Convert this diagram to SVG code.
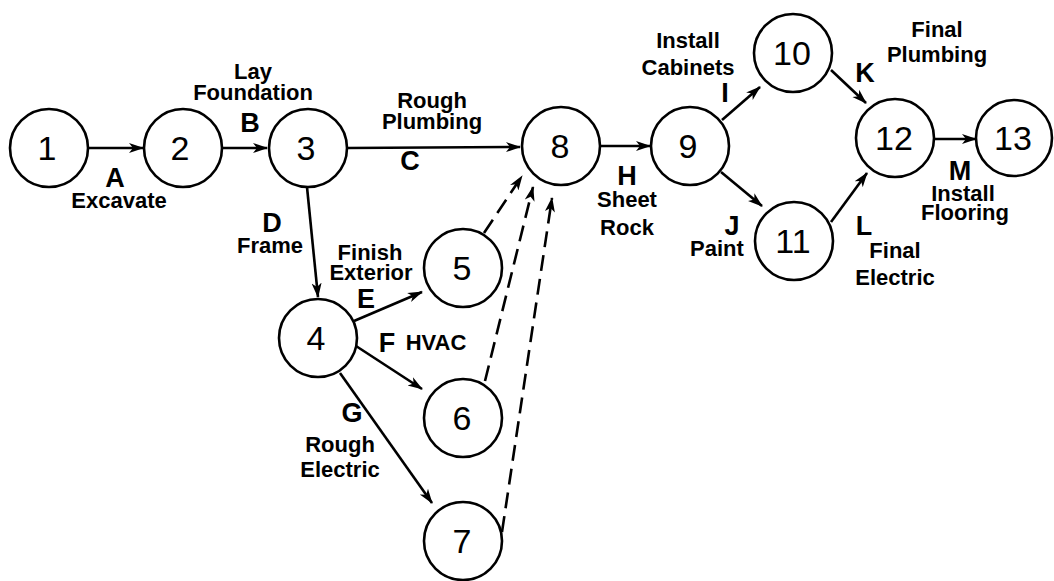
<svg xmlns="http://www.w3.org/2000/svg" width="1054" height="581" viewBox="0 0 1054 581">
<style>
.node circle{fill:#fff;stroke:#000;stroke-width:2.6}
.node text{font-family:"Liberation Sans",Arial,sans-serif;font-size:34px;text-anchor:middle;fill:#000}
.lbl{font-family:"Liberation Sans",Arial,sans-serif;font-weight:bold;font-size:22px;text-anchor:middle;fill:#000}
.let{font-family:"Liberation Sans",Arial,sans-serif;font-weight:bold;font-size:27px;text-anchor:middle;fill:#000}
.edge{stroke:#000;stroke-width:2.6;fill:none;marker-end:url(#ah)}
.dash{stroke-dasharray:16 8}
</style>
<defs>
<marker id="ah" markerUnits="userSpaceOnUse" markerWidth="16" markerHeight="12" refX="14" refY="5" orient="auto" viewBox="0 0 16 10">
<path d="M0,0 L15,5 L0,10 L4,5 z" fill="#000"/>
</marker>
</defs>
<rect width="1054" height="581" fill="#fff"/>
<g id="connectors">
<line class="edge" x1="89" y1="148" x2="143" y2="148"/>
<line class="edge" x1="223" y1="148" x2="267" y2="148"/>
<line class="edge" x1="347" y1="148" x2="520" y2="147"/>
<line class="edge" x1="307" y1="187" x2="318" y2="297"/>
<line class="edge" x1="354" y1="321" x2="422" y2="292"/>
<line class="edge" x1="356" y1="346" x2="422" y2="389"/>
<line class="edge" x1="340" y1="373" x2="432" y2="503"/>
<line class="edge dash" x1="484" y1="233" x2="522" y2="176"/>
<line class="edge dash" x1="485" y1="381" x2="533" y2="187"/>
<line class="edge dash" x1="502" y1="532" x2="552" y2="198"/>
<line class="edge" x1="600" y1="146" x2="650" y2="146"/>
<line class="edge" x1="722" y1="120" x2="760" y2="87"/>
<line class="edge" x1="721" y1="172" x2="762" y2="206"/>
<line class="edge" x1="831" y1="70" x2="866" y2="103"/>
<line class="edge" x1="831" y1="222" x2="867" y2="173"/>
<line class="edge" x1="934" y1="139" x2="976" y2="139"/>
</g>
<g id="n1" class="node"><circle cx="49" cy="148" r="39"/><text x="47" y="160">1</text></g>
<g id="n2" class="node"><circle cx="183" cy="148" r="39"/><text x="180" y="160">2</text></g>
<g id="n3" class="node"><circle cx="308" cy="148" r="39"/><text x="306" y="160">3</text></g>
<g id="n4" class="node"><circle cx="318" cy="338" r="39"/><text x="316" y="350">4</text></g>
<g id="n5" class="node"><circle cx="463" cy="268" r="39"/><text x="462" y="280">5</text></g>
<g id="n6" class="node"><circle cx="463" cy="418" r="39"/><text x="462" y="430">6</text></g>
<g id="n7" class="node"><circle cx="463" cy="541" r="39"/><text x="462" y="553">7</text></g>
<g id="n8" class="node"><circle cx="561" cy="146" r="39"/><text x="560" y="158">8</text></g>
<g id="n9" class="node"><circle cx="690" cy="146" r="39"/><text x="688" y="158">9</text></g>
<g id="n10" class="node"><circle cx="793" cy="53" r="39"/><text x="792" y="65">10</text></g>
<g id="n11" class="node"><circle cx="794" cy="241" r="39"/><text x="793" y="253">11</text></g>
<g id="n12" class="node"><circle cx="895" cy="138" r="39"/><text x="894" y="150">12</text></g>
<g id="n13" class="node"><circle cx="1014" cy="138" r="38"/><text x="1013" y="150">13</text></g>
<g id="labels">
<text class="let" x="115" y="187">A</text>
<text class="lbl" x="119" y="208">Excavate</text>
<text class="lbl" x="253" y="79">Lay</text>
<text class="lbl" x="253" y="100">Foundation</text>
<text class="let" x="250" y="132">B</text>
<text class="lbl" x="432" y="108">Rough</text>
<text class="lbl" x="432" y="129">Plumbing</text>
<text class="let" x="410" y="170">C</text>
<text class="let" x="272" y="232">D</text>
<text class="lbl" x="270" y="253">Frame</text>
<text class="lbl" x="370" y="260">Finish</text>
<text class="lbl" x="371" y="280">Exterior</text>
<text class="let" x="366" y="308">E</text>
<text class="let" x="387" y="352">F</text>
<text class="lbl" x="436" y="350">HVAC</text>
<text class="let" x="352" y="422">G</text>
<text class="lbl" x="340" y="452">Rough</text>
<text class="lbl" x="340" y="477">Electric</text>
<text class="let" x="627" y="185">H</text>
<text class="lbl" x="627" y="207">Sheet</text>
<text class="lbl" x="627" y="235">Rock</text>
<text class="lbl" x="688" y="48">Install</text>
<text class="lbl" x="688" y="75">Cabinets</text>
<text class="let" x="725" y="102">I</text>
<text class="let" x="732" y="235">J</text>
<text class="lbl" x="717" y="256">Paint</text>
<text class="let" x="865" y="82">K</text>
<text class="lbl" x="937" y="37">Final</text>
<text class="lbl" x="937" y="62">Plumbing</text>
<text class="let" x="864" y="235">L</text>
<text class="lbl" x="895" y="258">Final</text>
<text class="lbl" x="895" y="285">Electric</text>
<text class="let" x="960" y="180">M</text>
<text class="lbl" x="963" y="201">Install</text>
<text class="lbl" x="965" y="220">Flooring</text>
</g>
</svg>
